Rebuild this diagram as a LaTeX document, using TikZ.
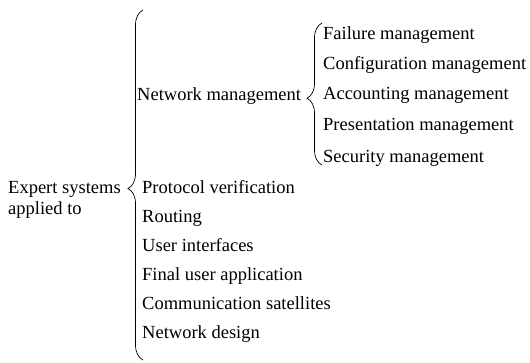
\documentclass[tikz,border=0pt]{standalone}
\usepackage{fontspec}
\setmainfont{Liberation Serif}
\usetikzlibrary{decorations.pathreplacing}
\begin{document}
\begin{tikzpicture}[x=1pt,y=1pt,
  lbl/.style={anchor=base west,inner sep=0pt,font=\fontsize{18.5}{22}\selectfont},
  bigbrace/.style={draw,line width=0.7pt,decorate,decoration={brace,amplitude=15pt,aspect=#1}}]
\useasboundingbox (0,0) rectangle (530,362);
% left label
\node[lbl] (e1) at (8,169) {Expert systems};
\node[lbl] (e2) at (8,148) {applied to};
% main brace
\coordinate (mb) at (143,2);
\coordinate (mt) at (143,352);
\draw[bigbrace=0.49] (mb) -- (mt);
% main items
\node[lbl] (nm) at (137,261) {Network management};
\node[lbl] (i1) at (142,169) {Protocol verification};
\node[lbl] (i2) at (142,140) {Routing};
\node[lbl] (i3) at (142,111) {User interfaces};
\node[lbl] (i4) at (142,82) {Final user application};
\node[lbl] (i5) at (142,53) {Communication satellites};
\node[lbl] (i6) at (142,24) {Network design};
% sub brace
\coordinate (sb) at (322,197);
\coordinate (st) at (322,339);
\draw[bigbrace=0.47] (sb) -- (st);
% sub items
\node[lbl] (s1) at (323,322) {Failure management};
\node[lbl] (s2) at (323,292) {Configuration management};
\node[lbl] (s3) at (323,262) {Accounting management};
\node[lbl] (s4) at (323,231) {Presentation management};
\node[lbl] (s5) at (323,200) {Security management};
\end{tikzpicture}
\end{document}
